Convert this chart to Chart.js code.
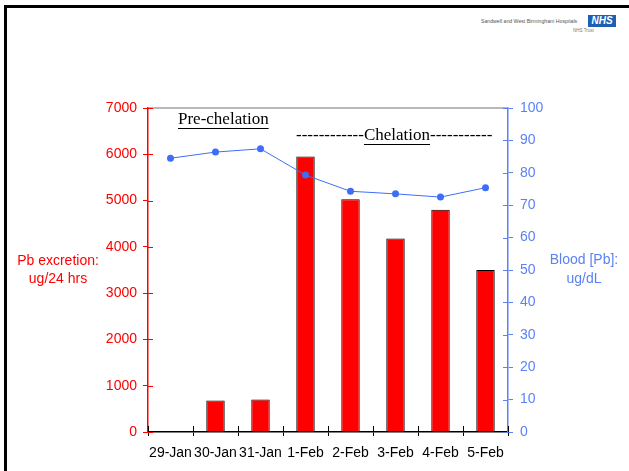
<!DOCTYPE html>
<html>
<head>
<meta charset="utf-8">
<script src="https://cdn.jsdelivr.net/npm/chart.js@4.4.1/dist/chart.umd.min.js"></script>
<style>
  html, body { margin: 0; padding: 0; background: #fff; }
  #wrap { position: relative; width: 629px; height: 471px; overflow: hidden; }
  #frame { position: absolute; left: 4px; top: 5px; width: 622px; height: 480px;
           border-top: 3px solid #000; border-left: 3px solid #000; }
  #trust { position: absolute; left: 481px; top: 18px; font: 5.2px "Liberation Sans", Arial, sans-serif;
           color: #555; white-space: nowrap; }
  #nhs { position: absolute; left: 588px; top: 15px; width: 28px; height: 12px; background: #1e5fb4;
         color: #fff; font: italic bold 10px "Liberation Sans", Arial, sans-serif; line-height: 12px;
         text-align: center; }
  #nhstrust { position: absolute; left: 573px; top: 28px; font: 4.5px "Liberation Sans", Arial, sans-serif;
              color: #777; white-space: nowrap; }
  canvas { position: absolute; left: 0; top: 0; }
</style>
</head>
<body>
<div id="wrap">
  <div id="frame"></div>
  <div id="trust">Sandwell and West Birmingham Hospitals</div>
  <div id="nhs">NHS</div>
  <div id="nhstrust">NHS Trust</div>
  <canvas id="chart" width="629" height="471"></canvas>
</div>
<script>
const days = ["29-Jan", "30-Jan", "31-Jan", "1-Feb", "2-Feb", "3-Feb", "4-Feb", "5-Feb"];
const pbExcretion = [null, 680, 700, 5950, 5030, 4180, 4800, 3500];
const bloodPb = [84.5, 86.4, 87.4, 79.3, 74.3, 73.5, 72.5, 75.4];

const RED = "#ff0000";
const BLUE = "#3e6ef6";
const BLUE_AXIS = "#5b82f5";
const SANS = "'Liberation Sans', Arial, sans-serif";
const SERIF = "'Liberation Serif', 'Times New Roman', serif";

// inner tick marks, frame line on top, axis titles and the period notes
const decorations = {
  id: "decorations",
  afterDraw(chart) {
    const { ctx, chartArea: a, scales } = chart;
    ctx.save();

    ctx.strokeStyle = "#a0a0a0";
    ctx.lineWidth = 1.5;
    ctx.beginPath();
    ctx.moveTo(a.left, a.top);
    ctx.lineTo(a.right, a.top);
    ctx.stroke();

    ctx.lineWidth = 1;
    ctx.strokeStyle = RED;
    scales.y.ticks.forEach((t) => {
      const y = Math.round(scales.y.getPixelForValue(t.value)) + 0.5;
      ctx.beginPath();
      ctx.moveTo(a.left, y);
      ctx.lineTo(a.left + 5, y);
      ctx.stroke();
    });
    ctx.strokeStyle = BLUE_AXIS;
    scales.y1.ticks.forEach((t) => {
      const y = Math.round(scales.y1.getPixelForValue(t.value)) + 0.5;
      ctx.beginPath();
      ctx.moveTo(a.right - 5, y);
      ctx.lineTo(a.right, y);
      ctx.stroke();
    });
    ctx.strokeStyle = "#000";
    for (let i = 0; i <= days.length; i++) {
      const x = Math.round(scales.x.getPixelForValue(i - 0.5)) + 0.5;
      ctx.beginPath();
      ctx.moveTo(x, a.bottom);
      ctx.lineTo(x, a.bottom - 6);
      ctx.stroke();
    }

    // axis titles
    ctx.font = "14px " + SANS;
    ctx.textAlign = "center";
    ctx.textBaseline = "middle";
    ctx.fillStyle = RED;
    ctx.fillText("Pb excretion:", 58, 261);
    ctx.fillText("ug/24 hrs", 58, 279);
    ctx.fillStyle = BLUE_AXIS;
    ctx.fillText("Blood [Pb]:", 584, 260);
    ctx.fillText("ug/dL", 584, 279);

    // period notes
    ctx.font = "17px " + SERIF;
    ctx.fillStyle = "#000";
    ctx.strokeStyle = "#000";
    ctx.textAlign = "left";
    const underline = (x, y, w) => {
      ctx.beginPath();
      ctx.moveTo(x, y);
      ctx.lineTo(x + w, y);
      ctx.stroke();
    };
    const pre = "Pre-chelation";
    ctx.fillText(pre, 178, 120);
    underline(178, 128.5, ctx.measureText(pre).width);

    const dashL = "------------", word = "Chelation", dashR = "-----------";
    let x = 296;
    ctx.fillText(dashL, x, 136);
    x += ctx.measureText(dashL).width;
    ctx.fillText(word, x, 136);
    underline(x, 144.5, ctx.measureText(word).width);
    x += ctx.measureText(word).width;
    ctx.fillText(dashR, x, 136);

    ctx.restore();
  },
};

new Chart(document.getElementById("chart"), {
  type: "bar",
  data: {
    labels: days,
    datasets: [
      {
        type: "line",
        label: "Blood [Pb]",
        data: bloodPb,
        yAxisID: "y1",
        borderColor: BLUE,
        backgroundColor: BLUE,
        borderWidth: 1,
        pointRadius: 3.5,
        pointBorderWidth: 0,
        tension: 0,
        order: 0,
      },
      {
        label: "Pb excretion",
        data: pbExcretion,
        yAxisID: "y",
        backgroundColor: RED,
        borderColor: "#000",
        borderWidth: 1,
        barPercentage: 0.41,
        categoryPercentage: 1,
        order: 1,
      },
    ],
  },
  options: {
    responsive: false,
    animation: false,
    layout: { padding: { top: 108, left: 0, right: 0, bottom: 0 } },
    plugins: { legend: { display: false }, tooltip: { enabled: false } },
    scales: {
      x: {
        offset: true,
        grid: { offset: true, drawOnChartArea: false, color: "#000", tickLength: 4 },
        border: { color: "#000", width: 1.5 },
        ticks: { color: "#000", font: { size: 14, family: SANS }, maxRotation: 0, autoSkip: false, padding: 9 },
        afterFit: (s) => { s.height = 39; },
      },
      y: {
        position: "left",
        min: 0,
        max: 7000,
        grid: { drawOnChartArea: false, color: RED, tickLength: 5 },
        border: { color: RED, width: 1.5 },
        ticks: { stepSize: 1000, color: RED, font: { size: 14, family: SANS }, padding: 6, callback: (v) => String(v) },
        afterFit: (s) => { s.width = 148; },
      },
      y1: {
        position: "right",
        min: 0,
        max: 100,
        grid: { drawOnChartArea: false, color: BLUE_AXIS, tickLength: 5 },
        border: { color: BLUE_AXIS, width: 1.5 },
        ticks: { stepSize: 10, color: BLUE_AXIS, font: { size: 14, family: SANS }, padding: 7, callback: (v) => String(v) },
        afterFit: (s) => { s.width = 121; },
      },
    },
  },
  plugins: [decorations],
});
</script>
</body>
</html>
